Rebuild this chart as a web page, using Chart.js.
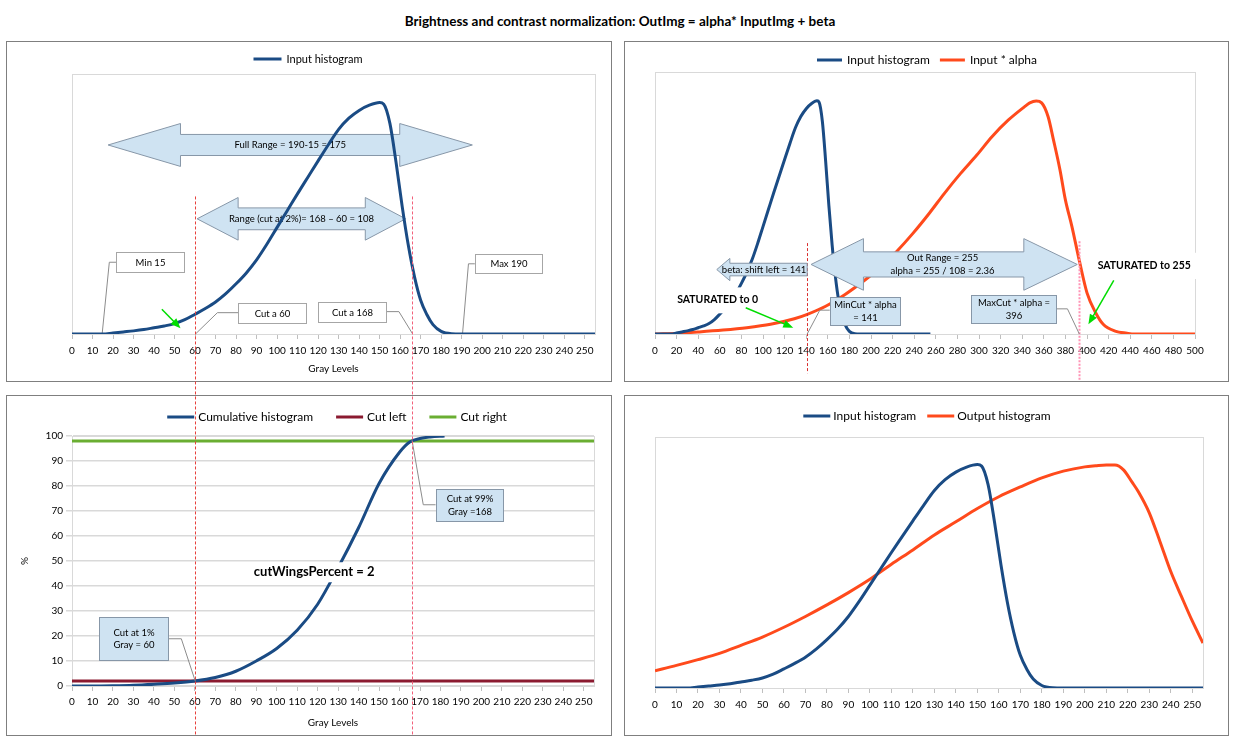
<!DOCTYPE html>
<html>
<head>
<meta charset="utf-8">
<title>Brightness and contrast normalization</title>
<script src="https://cdn.jsdelivr.net/npm/chart.js@4.4.1/dist/chart.umd.min.js"></script>
<style>
  html, body { margin: 0; padding: 0; background: #fff; }
  body { width: 1240px; height: 746px; position: relative; overflow: hidden; font-family: Lato, "Liberation Sans", sans-serif; }
  #title { position: absolute; left: 0; top: 13px; width: 1240px; text-align: center; font-weight: bold; font-size: 13.5px; line-height: 17px; color: #000; }
  .panel { position: absolute; border: 1px solid #7f7f7f; box-sizing: border-box; }
  canvas.chart { position: absolute; }
  #overlay { position: absolute; left: 0; top: 0; pointer-events: none; }
</style>
</head>
<body>
<div id="title">Brightness and contrast normalization: OutImg = alpha* InputImg + beta</div>

<div class="panel" style="left:6px;top:41px;width:606px;height:341px"></div>
<div class="panel" style="left:624px;top:41px;width:605px;height:341px"></div>
<div class="panel" style="left:6px;top:395px;width:606px;height:341px"></div>
<div class="panel" style="left:624px;top:395px;width:605px;height:341px"></div>

<canvas id="c1" class="chart" width="604" height="339" style="left:7px;top:42px"></canvas>
<canvas id="c2" class="chart" width="603" height="339" style="left:625px;top:42px"></canvas>
<canvas id="c3" class="chart" width="604" height="339" style="left:7px;top:396px"></canvas>
<canvas id="c4" class="chart" width="603" height="339" style="left:625px;top:396px"></canvas>
<canvas id="overlay" width="1240" height="746"></canvas>

<script>
// ---- data (heights in % of plot height) ----
const grayLevels = [0, 10, 15, 20, 25, 30, 35, 40, 45, 50, 55, 60, 65, 70, 75, 80, 85, 90, 95, 100,
  105, 110, 115, 120, 125, 130, 135, 140, 145, 150, 152, 155, 158, 161, 164, 167, 170, 173, 176,
  180, 185, 190, 255];
const inputHistogram = [0, 0, 0, 0.4, 0.8, 1.2, 1.7, 2.4, 3.1, 4.0, 5.5, 7.6, 9.8, 12.3, 15.5, 19.3, 23.5, 28.5, 34.5, 41,
  47.5, 54, 60.3, 66.6, 72.8, 78.7, 83, 86, 88, 89, 88.4, 81, 66, 49, 34, 22, 13, 7.5, 3.6,
  1, 0.1, 0, 0];

// panel 2: input stretched by alpha (x axis 0..500)
const alphaLevels = [0, 22, 41, 63, 85, 107, 129, 141, 158, 176, 195, 210, 224, 239, 254, 268, 283, 298,
  312, 327, 342, 347, 353, 358, 364, 369, 375, 380, 386, 393, 400, 408, 415, 426, 437, 444, 500];
const inputTimesAlpha = [0, 0.3, 0.8, 1.5, 2.4, 3.7, 5.8, 7.5, 10.6, 15.1, 20.8, 25.9, 31.6, 38.5, 46.1, 53.7, 61.3, 68.3,
  75.3, 81.6, 86.7, 88.2, 88.9, 88.2, 82.9, 74, 62.6, 51.2, 41.1, 27.8, 15.7, 8.1, 3.7, 1.1, 0.3, 0, 0];

// panel 4: output histogram
const outputLevels = [0, 10, 20, 30, 40, 50, 60, 70, 80, 90, 100, 110, 120, 130, 140, 150, 160, 170, 180, 190,
  200, 205, 210, 214, 218, 222, 225, 230, 235, 240, 245, 250, 255];
const outputHistogram = [6.9, 9.0, 11.3, 13.8, 17, 20.3, 24.2, 28.5, 33.1, 38, 43.3, 49.3, 55, 61, 66.2, 71.5, 76.2, 80.1, 83.7, 86.4,
  88.1, 88.5, 88.8, 88.8, 86.9, 82, 78.1, 69.8, 58.3, 46.4, 36.4, 26.7, 17.9];

// panel 3: cumulative histogram (%)
const cumLevels = [0, 10, 20, 30, 40, 50, 60, 70, 80, 90, 100, 110, 120, 130, 140, 150, 160, 165, 170, 175, 182];
const cumulativePercent = [0, 0, 0.1, 0.3, 0.7, 1.2, 2.0, 3.4, 5.9, 10, 15, 22.3, 32.7, 47.3, 63.3, 81, 93.5, 97.6, 99, 99.6, 100];
const cutLevels = [0, 255];
const cutLeftPercent = [2, 2];
const cutRightPercent = [98, 98];

// cut markers
const grayCuts = [60, 166];
const alphaCuts = [141, 393];

// ---- styles ----
const BLUE = '#1a4b84';
const ORANGE = '#ff4a1c';
const MAROON = '#8b1a30';
const GREEN = '#6aae32';
const NOTE_FILL = '#cfe3f2';
const NOTE_EDGE = '#8797a8';

Chart.defaults.font.family = 'Lato, "Liberation Sans", sans-serif';
Chart.defaults.font.size = 10;
Chart.defaults.color = '#000';
Chart.defaults.animation = false;
Chart.defaults.events = [];
Chart.defaults.plugins.legend.display = false;
Chart.defaults.plugins.tooltip.enabled = false;

const pairs = (xs, ys) => xs.map((x, i) => ({ x: x, y: ys[i] }));

function line(label, xs, ys, color) {
  return {
    label: label, data: pairs(xs, ys), borderColor: color, backgroundColor: color,
    borderWidth: 3, pointRadius: 0, fill: false, cubicInterpolationMode: 'monotone'
  };
}

function xAxis(max, step, height, pad, title) {
  return {
    type: 'linear', min: 0, max: max,
    afterFit: s => { s.height = height; },
    ticks: { stepSize: step, autoSkip: false, maxRotation: 0, minRotation: 0, includeBounds: false, padding: pad, font: { size: 10 } },
    grid: { drawOnChartArea: false, drawTicks: true, tickLength: 5, color: '#bfbfbf' },
    border: { color: '#bfbfbf' },
    title: { display: !!title, text: title || '', font: { size: 10 }, padding: { top: 0, bottom: 6 } }
  };
}

// line-sample legend, centred on cx
function legendPlugin(o) {
  return {
    id: 'lineLegend',
    afterDraw(chart) {
      const ctx = chart.ctx;
      ctx.save();
      ctx.font = o.size + 'px Lato';
      const items = chart.data.datasets.map(d => ({ text: d.label, color: d.borderColor, w: ctx.measureText(d.label).width }));
      const total = items.reduce((s, it) => s + o.sample + o.gap + it.w, 0) + o.spacing * (items.length - 1);
      let x = o.cx - total / 2;
      items.forEach(it => {
        ctx.strokeStyle = it.color;
        ctx.lineWidth = 3;
        ctx.beginPath();
        ctx.moveTo(x, o.cy);
        ctx.lineTo(x + o.sample, o.cy);
        ctx.stroke();
        ctx.fillStyle = '#000';
        ctx.textAlign = 'left';
        ctx.textBaseline = 'middle';
        ctx.fillText(it.text, x + o.sample + o.gap, o.cy);
        x += o.sample + o.gap + it.w + o.spacing;
      });
      ctx.restore();
    }
  };
}

function writeLines(ctx, lines, cx, cy, size, bold) {
  const lh = size * 1.3;
  ctx.font = (bold ? 'bold ' : '') + size + 'px Lato';
  ctx.fillStyle = '#000';
  ctx.textAlign = 'center';
  ctx.textBaseline = 'middle';
  lines.forEach((t, i) => ctx.fillText(t, cx, cy - (lines.length - 1) * lh / 2 + i * lh));
}

function drawNotes(chart, notes) {
  const ctx = chart.ctx;
  const X = v => chart.scales.x.getPixelForValue(v);
  const Y = v => chart.scales.y.getPixelForValue(v);
  notes.forEach(n => {
    ctx.save();
    if (n.type === 'arrow2' || n.type === 'arrowL') {
      const pts = n.type === 'arrow2'
        ? [[n.x1, n.yc], [n.h1, n.yc + n.head], [n.h1, n.yc + n.shaft], [n.h2, n.yc + n.shaft], [n.h2, n.yc + n.head],
           [n.x2, n.yc], [n.h2, n.yc - n.head], [n.h2, n.yc - n.shaft], [n.h1, n.yc - n.shaft], [n.h1, n.yc - n.head]]
        : [[n.x1, n.yc], [n.h1, n.yc + n.head], [n.h1, n.yc + n.shaft], [n.x2, n.yc + n.shaft],
           [n.x2, n.yc - n.shaft], [n.h1, n.yc - n.shaft], [n.h1, n.yc - n.head]];
      ctx.beginPath();
      pts.forEach((p, i) => i ? ctx.lineTo(X(p[0]), Y(p[1])) : ctx.moveTo(X(p[0]), Y(p[1])));
      ctx.closePath();
      ctx.fillStyle = NOTE_FILL;
      ctx.fill();
      ctx.strokeStyle = NOTE_EDGE;
      ctx.lineWidth = 1;
      ctx.stroke();
      writeLines(ctx, n.lines, X(n.tx), Y(n.yc), 9.5);
    } else if (n.type === 'box') {
      ctx.strokeStyle = '#8c8c8c';
      ctx.lineWidth = 1;
      ctx.beginPath();
      n.leader.forEach((p, i) => i ? ctx.lineTo(X(p[0]), Y(p[1])) : ctx.moveTo(X(p[0]), Y(p[1])));
      ctx.stroke();
      const x1 = Math.round(X(n.x1)) + 0.5, x2 = Math.round(X(n.x2)) + 0.5;
      const y1 = Math.round(Y(n.y2)) + 0.5, y2 = Math.round(Y(n.y1)) + 0.5;
      ctx.fillStyle = n.fill;
      ctx.fillRect(x1, y1, x2 - x1, y2 - y1);
      ctx.strokeStyle = n.fill === '#fff' ? '#a6a6a6' : NOTE_EDGE;
      ctx.strokeRect(x1, y1, x2 - x1, y2 - y1);
      writeLines(ctx, n.lines, (x1 + x2) / 2, (y1 + y2) / 2, 9.5);
    } else if (n.type === 'text') {
      if (n.bg) {
        ctx.fillStyle = '#fff';
        ctx.fillRect(X(n.bg[0]), Y(n.bg[3]), X(n.bg[1]) - X(n.bg[0]), Y(n.bg[2]) - Y(n.bg[3]));
      }
      writeLines(ctx, [n.text], X(n.x), Y(n.y), n.size || 10.5, true);
    } else if (n.type === 'green') {
      const x0 = X(n.from[0]), y0 = Y(n.from[1]), x1 = X(n.to[0]), y1 = Y(n.to[1]);
      const a = Math.atan2(y1 - y0, x1 - x0);
      ctx.strokeStyle = '#00dd00';
      ctx.fillStyle = '#00dd00';
      ctx.lineWidth = 1.5;
      ctx.beginPath();
      ctx.moveTo(x0, y0);
      ctx.lineTo(x1 - 6 * Math.cos(a), y1 - 6 * Math.sin(a));
      ctx.stroke();
      ctx.beginPath();
      ctx.moveTo(x1, y1);
      ctx.lineTo(x1 - 10 * Math.cos(a) + 4 * Math.sin(a), y1 - 10 * Math.sin(a) - 4 * Math.cos(a));
      ctx.lineTo(x1 - 10 * Math.cos(a) - 4 * Math.sin(a), y1 - 10 * Math.sin(a) + 4 * Math.cos(a));
      ctx.closePath();
      ctx.fill();
    } else if (n.type === 'vline') {
      const x = Math.round(X(n.x)) + 0.5;
      ctx.strokeStyle = n.color;
      ctx.lineWidth = n.width;
      ctx.setLineDash(n.dash);
      ctx.beginPath();
      ctx.moveTo(x, Y(n.y1));
      ctx.lineTo(x, Y(n.y2));
      ctx.stroke();
    }
    ctx.restore();
  });
}

function notesPlugin(before, after) {
  return {
    id: 'notes',
    beforeDatasetsDraw(chart) {
      const a = chart.chartArea, ctx = chart.ctx;
      ctx.save();
      ctx.strokeStyle = '#d9d9d9';
      ctx.lineWidth = 1;
      ctx.strokeRect(Math.round(a.left) + 0.5, Math.round(a.top) + 0.5, Math.round(a.right - a.left), Math.round(a.bottom - a.top));
      ctx.restore();
      drawNotes(chart, before);
    },
    afterDatasetsDraw(chart) { drawNotes(chart, after); }
  };
}

const hiddenY = { min: 0, max: 100, display: false };

// ---- panel 1: input histogram ----
const chart1 = new Chart(document.getElementById('c1'), {
  type: 'line',
  data: { datasets: [line('Input histogram', grayLevels, inputHistogram, BLUE)] },
  options: {
    responsive: false,
    layout: { padding: { left: 65, right: 16, top: 32, bottom: 0 } },
    scales: { x: xAxis(255, 10, 47, 6, 'Gray Levels'), y: hiddenY }
  },
  plugins: [
    legendPlugin({ cx: 301, cy: 17, size: 11, sample: 28, gap: 5, spacing: 10 }),
    notesPlugin([
      { type: 'arrow2', x1: 17.6, h1: 52.9, h2: 159.8, x2: 195.2, yc: 72.7, shaft: 4.05, head: 8.25, tx: 106.4, lines: ['Full Range = 190-15 = 175'] },
      { type: 'arrow2', x1: 61, h1: 81, h2: 143, x2: 162.7, yc: 44.3, shaft: 4.2, head: 8.2, tx: 111.9, lines: ['Range (cut at 2%)= 168 \u2013 60 = 108'] },
      { type: 'box', x1: 21.5, x2: 54.4, y1: 23.7, y2: 31.4, fill: '#fff', lines: ['Min 15'], leader: [[21.5, 27.6], [18.2, 27.6], [14.7, 0]] },
      { type: 'box', x1: 81.1, x2: 114.3, y1: 4.4, y2: 12.1, fill: '#fff', lines: ['Cut a 60'], leader: [[81.1, 8.2], [70.9, 8.2], [60.2, 0]] },
      { type: 'box', x1: 120, x2: 153, y1: 4.7, y2: 12.5, fill: '#fff', lines: ['Cut a 168'], leader: [[153, 8.6], [159.4, 8.6], [166.1, 0]] },
      { type: 'box', x1: 196.4, x2: 229.3, y1: 23.4, y2: 30.7, fill: '#fff', lines: ['Max 190'], leader: [[196.4, 27], [193.3, 27], [190.4, 0]] }
    ], [
      { type: 'green', from: [43.8, 9.5], to: [52.9, 2.2] }
    ])
  ]
});

// ---- panel 2: input and input * alpha ----
new Chart(document.getElementById('c2'), {
  type: 'line',
  data: {
    datasets: [
      line('Input histogram', grayLevels, inputHistogram, BLUE),
      line('Input * alpha', alphaLevels, inputTimesAlpha, ORANGE)
    ]
  },
  options: {
    responsive: false,
    layout: { padding: { left: 30, right: 33, top: 30, bottom: 0 } },
    scales: { x: xAxis(500, 20, 47, 6, ''), y: hiddenY }
  },
  plugins: [
    legendPlugin({ cx: 302, cy: 18, size: 12, sample: 25, gap: 5, spacing: 10 }),
    notesPlugin([], [
      { type: 'vline', x: alphaCuts[0], y1: 34.7, y2: -15, color: '#d93030', width: 1, dash: [3, 2] },
      { type: 'vline', x: alphaCuts[1], y1: 35.4, y2: -18, color: '#ff93b5', width: 2, dash: [2, 1.5] },
      { type: 'arrow2', x1: 144.5, h1: 193, h2: 341.5, x2: 391, yc: 26.55, shaft: 4.8, head: 9.85, tx: 266.3, lines: ['Out Range = 255', 'alpha = 255 / 108 = 2.36'] },
      { type: 'arrowL', x1: 57.2, h1: 69.3, x2: 140.9, yc: 24.6, shaft: 2.4, head: 4.25, tx: 101, lines: ['beta: shift left = 141'] },
      { type: 'text', x: 58, y: 13.2, text: 'SATURATED to 0', bg: [15, 101, 7.9, 17.8] },
      { type: 'text', x: 453, y: 26.1, text: 'SATURATED to 255', bg: [405, 503, 21, 31] },
      { type: 'green', from: [84, 10], to: [128, 2.4] },
      { type: 'green', from: [424.8, 20.5], to: [401.3, 3.7] },
      { type: 'box', x1: 161.8, x2: 226.7, y1: 3.4, y2: 14.1, fill: NOTE_FILL, lines: ['MinCut * alpha', '= 141'], leader: [[161.8, 9.1], [152.6, 9.1], [140.9, 0]] },
      { type: 'box', x1: 293, x2: 370.9, y1: 4.3, y2: 15, fill: NOTE_FILL, lines: ['MaxCut * alpha =', '396'], leader: [[370.9, 9.6], [381.9, 9.6], [392.9, 0]] }
    ])
  ]
});

// ---- panel 3: cumulative histogram ----
const chart3 = new Chart(document.getElementById('c3'), {
  type: 'line',
  data: {
    datasets: [
      line('Cumulative histogram', cumLevels, cumulativePercent, BLUE),
      line('Cut left', cutLevels, cutLeftPercent, MAROON),
      line('Cut right', cutLevels, cutRightPercent, GREEN)
    ]
  },
  options: {
    responsive: false,
    layout: { padding: { left: 12, right: 17, top: 40, bottom: 0 } },
    scales: {
      x: xAxis(255, 10, 49, 5, 'Gray Levels'),
      y: {
        min: 0, max: 100,
        afterFit: s => { s.width = 53; },
        ticks: { stepSize: 10, padding: 3, font: { size: 10 } },
        grid: { color: '#d9d9d9', lineWidth: 1.5, tickLength: 6 },
        border: { color: '#bfbfbf' },
        title: { display: true, text: '%', font: { size: 10 }, padding: { top: 0, bottom: 0 } }
      }
    }
  },
  plugins: [
    legendPlugin({ cx: 330, cy: 21, size: 12, sample: 27, gap: 4, spacing: 23 }),
    notesPlugin([], [
      { type: 'text', x: 118.3, y: 45.6, text: 'cutWingsPercent = 2', size: 13, bg: [87.7, 148.7, 41.5, 49.5] },
      { type: 'box', x1: 13.4, x2: 46.7, y1: 10.5, y2: 27.6, fill: NOTE_FILL, lines: ['Cut at 1%', 'Gray = 60'], leader: [[46.7, 18.9], [53.4, 18.9], [60.2, 2]] },
      { type: 'box', x1: 177.6, x2: 210.7, y1: 66, y2: 78.8, fill: NOTE_FILL, lines: ['Cut at 99%', 'Gray =168'], leader: [[177.6, 72.5], [171.6, 72.5], [166.1, 98.3]] }
    ])
  ]
});

// ---- panel 4: input vs output histogram ----
new Chart(document.getElementById('c4'), {
  type: 'line',
  data: {
    datasets: [
      line('Input histogram', grayLevels, inputHistogram, BLUE),
      line('Output histogram', outputLevels, outputHistogram, ORANGE)
    ]
  },
  options: {
    responsive: false,
    layout: { padding: { left: 30, right: 25, top: 41, bottom: 0 } },
    scales: { x: xAxis(255, 10, 47, 6, ''), y: hiddenY }
  },
  plugins: [
    legendPlugin({ cx: 302, cy: 20, size: 12, sample: 27, gap: 3, spacing: 11 }),
    notesPlugin([], [])
  ]
});

// ---- red dashed cut lines running from panel 1 down through panel 3 ----
const c1 = document.getElementById('c1');
const c3 = document.getElementById('c3');
const ov = document.getElementById('overlay').getContext('2d');
const cutColors = ['#e8403c', '#f3607a'];
grayCuts.forEach((g, i) => {
  const x = Math.round(c1.offsetLeft + chart1.scales.x.getPixelForValue(g)) + 0.5;
  const y0 = c1.offsetTop + chart1.scales.y.getPixelForValue(52.9);
  const y1 = c3.offsetTop + chart3.height;
  ov.save();
  ov.strokeStyle = cutColors[i];
  ov.lineWidth = 1;
  ov.setLineDash([3, 2]);
  ov.beginPath();
  ov.moveTo(x, y0);
  ov.lineTo(x, y1);
  ov.stroke();
  ov.restore();
});
</script>
</body>
</html>
